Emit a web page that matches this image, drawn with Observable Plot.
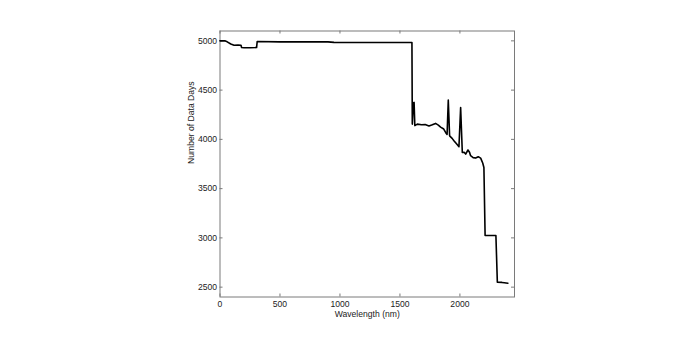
<!DOCTYPE html>
<html>
<head>
<meta charset="utf-8">
<script src="https://cdn.jsdelivr.net/npm/d3@7"></script>
<script src="https://cdn.jsdelivr.net/npm/@observablehq/plot@0.6"></script>
<style>
  html, body { margin: 0; padding: 0; background: #fff; }
  #chart { width: 698px; height: 342px; }
</style>
</head>
<body>
<div id="chart"></div>
<script>
const wavelength = [0, 40, 60, 90, 117, 150, 175, 180, 200, 250, 305, 310, 500, 900, 950, 1250, 1600,
  1603, 1612, 1618, 1624, 1645, 1680, 1710, 1742, 1770, 1797, 1820, 1839, 1865, 1881, 1893, 1903, 1914,
  1935, 1950, 1975, 1992, 2006, 2020, 2035, 2048, 2067, 2080, 2089, 2110, 2131, 2153, 2173, 2190, 2200,
  2210, 2300, 2312, 2350, 2370, 2400];
const dataDays = [5000, 5000, 4990, 4968, 4956, 4958, 4955, 4932, 4930, 4930, 4932, 4993, 4990, 4990, 4985, 4984, 4984,
  4155, 4370, 4375, 4140, 4155, 4148, 4150, 4135, 4148, 4162, 4145, 4125, 4105, 4070, 4050, 4398, 4036,
  4010, 3986, 3950, 3925, 4324, 3867, 3870, 3851, 3892, 3870, 3834, 3815, 3810, 3823, 3810, 3760, 3715,
  3025, 3025, 2550, 2548, 2545, 2540];
const xTicks = [0, 500, 1000, 1500, 2000];
const yTicks = [2500, 3000, 3500, 4000, 4500, 5000];
const xLabel = "Wavelength (nm)";
const yLabel = "Number of Data Days";

const data = wavelength.map((w, i) => ({w, d: dataDays[i]}));

const W = 698, H = 342;
const mL = 219.5, mR = 184, mT = 30.5, mB = 45.5;
const plotH = H - mT - mB, plotW = W - mL - mR;
const tk = 3;
const grey = "#7a7a7a";
const fmt = d3.format("d");

const chart = Plot.plot({
  width: W,
  height: H,
  marginLeft: mL,
  marginRight: mR,
  marginTop: mT,
  marginBottom: mB,
  style: {fontFamily: "'Liberation Sans', Arial, sans-serif", fontSize: "8.6px", background: "#fff"},
  x: {domain: [0, 2455]},
  y: {domain: [2400, 5100]},
  marks: [
    Plot.frame({stroke: grey, strokeWidth: 1}),
    Plot.tickX(xTicks, {x: d => d, stroke: grey, insetTop: plotH - tk}),
    Plot.tickX(xTicks, {x: d => d, stroke: grey, insetBottom: plotH - tk}),
    Plot.tickY(yTicks, {y: d => d, stroke: grey, insetRight: plotW - tk}),
    Plot.tickY(yTicks, {y: d => d, stroke: grey, insetLeft: plotW - tk}),
    Plot.axisX({ticks: xTicks, tickFormat: fmt, tickSize: 0, tickPadding: 4, label: null, fill: "#222"}),
    Plot.axisY({ticks: yTicks, tickFormat: fmt, tickSize: 0, tickPadding: 3, label: null, fill: "#222"}),
    Plot.line(data, {x: "w", y: "d", stroke: "#000", strokeWidth: 1.6, strokeLinejoin: "round"}),
    Plot.text([xLabel], {frameAnchor: "bottom", text: d => d, dy: 19.5, fill: "#222"}),
    Plot.text([yLabel], {frameAnchor: "left", text: d => d, rotate: -90, dx: -29, fill: "#222"})
  ]
});
document.getElementById("chart").appendChild(chart);
</script>
</body>
</html>
